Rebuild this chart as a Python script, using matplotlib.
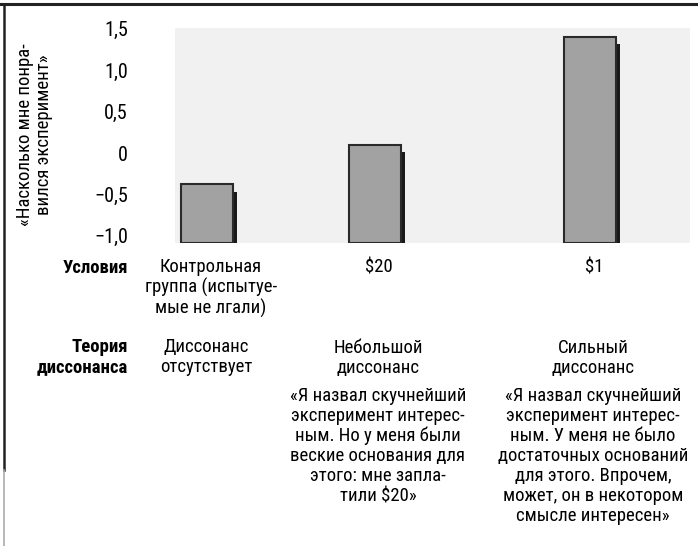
import matplotlib.pyplot as plt
from matplotlib.lines import Line2D

plt.rcParams['font.family'] = ['Roboto Condensed', 'DejaVu Sans']

# data
conditions = ['Контрольная\nгруппа (испытуе-\nмые не лгали)', '$20', '$1']
liking = [-0.38, 0.10, 1.40]
theory = ['Диссонанс\nотсутствует', 'Небольшой\nдиссонанс', 'Сильный\nдиссонанс']
quotes = ['',
          '«Я назвал скучнейший\nэксперимент интерес-\nным. Но у меня были\nвеские основания для\nэтого: мне запла-\nтили $20»',
          '«Я назвал скучнейший\nэксперимент интерес-\nным. У меня не было\nдостаточных оснований\nдля этого. Впрочем,\nможет, он в некотором\nсмысле интересен»']
yticks = [-1.0, -0.5, 0, 0.5, 1.0, 1.5]
ytick_labels = ['\u22121,0', '\u22120,5', '0', '0,5', '1,0', '1,5']

W, H = 698, 546
xpos = [207, 375, 590]   # bar centres, pixel units of the axes
bar_w = 52
base = -1.087
fs = 13.5

def fx(x):
    return x / W

def fy(y):
    return 1 - y / H

fig = plt.figure(figsize=(6.98, 5.46), dpi=100)
ax = fig.add_axes([fx(175), fy(243), fx(690) - fx(175), fy(28) - fy(243)])
ax.set_xlim(175, 690)
ax.set_ylim(base, 1.51)
ax.set_facecolor('#f1f1f1')
for s in ax.spines.values():
    s.set_visible(False)

# shadow then bar
for x, v in zip(xpos, liking):
    ax.bar(x + 4, v - 0.085 - base, bottom=base, width=bar_w, color='#1a1a1a', zorder=2)
    ax.bar(x, v - base, bottom=base, width=bar_w, color='#a2a2a2',
           edgecolor='#2a2a2a', linewidth=1.5, zorder=3)

ax.set_yticks(yticks)
ax.set_yticklabels(ytick_labels, fontsize=14.5)
ax.set_xticks([x + 4 for x in xpos])
ax.set_xticklabels(conditions, fontsize=fs, linespacing=1.12, va='top')
ax.tick_params(length=0)
ax.tick_params(axis='y', pad=34)
ax.tick_params(axis='x', pad=11)

ax.set_ylabel('«Насколько мне понра-\nвился эксперимент»', fontsize=13.5,
              linespacing=1.05)
ax.yaxis.set_label_coords(fx(53), fy(135), transform=fig.transFigure)

fig.text(fx(128), fy(268), 'Условия', ha='right', va='center', fontsize=fs, fontweight='bold')
fig.text(fx(128), fy(357), 'Теория\nдиссонанса', ha='right', va='center', fontsize=fs,
         fontweight='bold', linespacing=1.12)
tx = [206, 378, 593]
ty = [357, 358, 358]
for x, y, t in zip(tx, ty, theory):
    fig.text(fx(x), fy(y), t, ha='center', va='center', fontsize=fs, linespacing=1.12)
for x, q in zip(tx, quotes):
    if q:
        fig.text(fx(x), fy(387), q, ha='center', va='top', fontsize=fs, linespacing=1.14)

# page frame
fig.add_artist(Line2D([0, 1], [fy(4), fy(4)], color='#222222', linewidth=2.2))
fig.add_artist(Line2D([fx(4), fx(4)], [fy(4), fy(470)], color='#222222', linewidth=1.8))
fig.add_artist(Line2D([fx(4), fx(4)], [fy(470), 0], color='#aaaaaa', linewidth=1.2))

fig.savefig('out.png', dpi=100)
